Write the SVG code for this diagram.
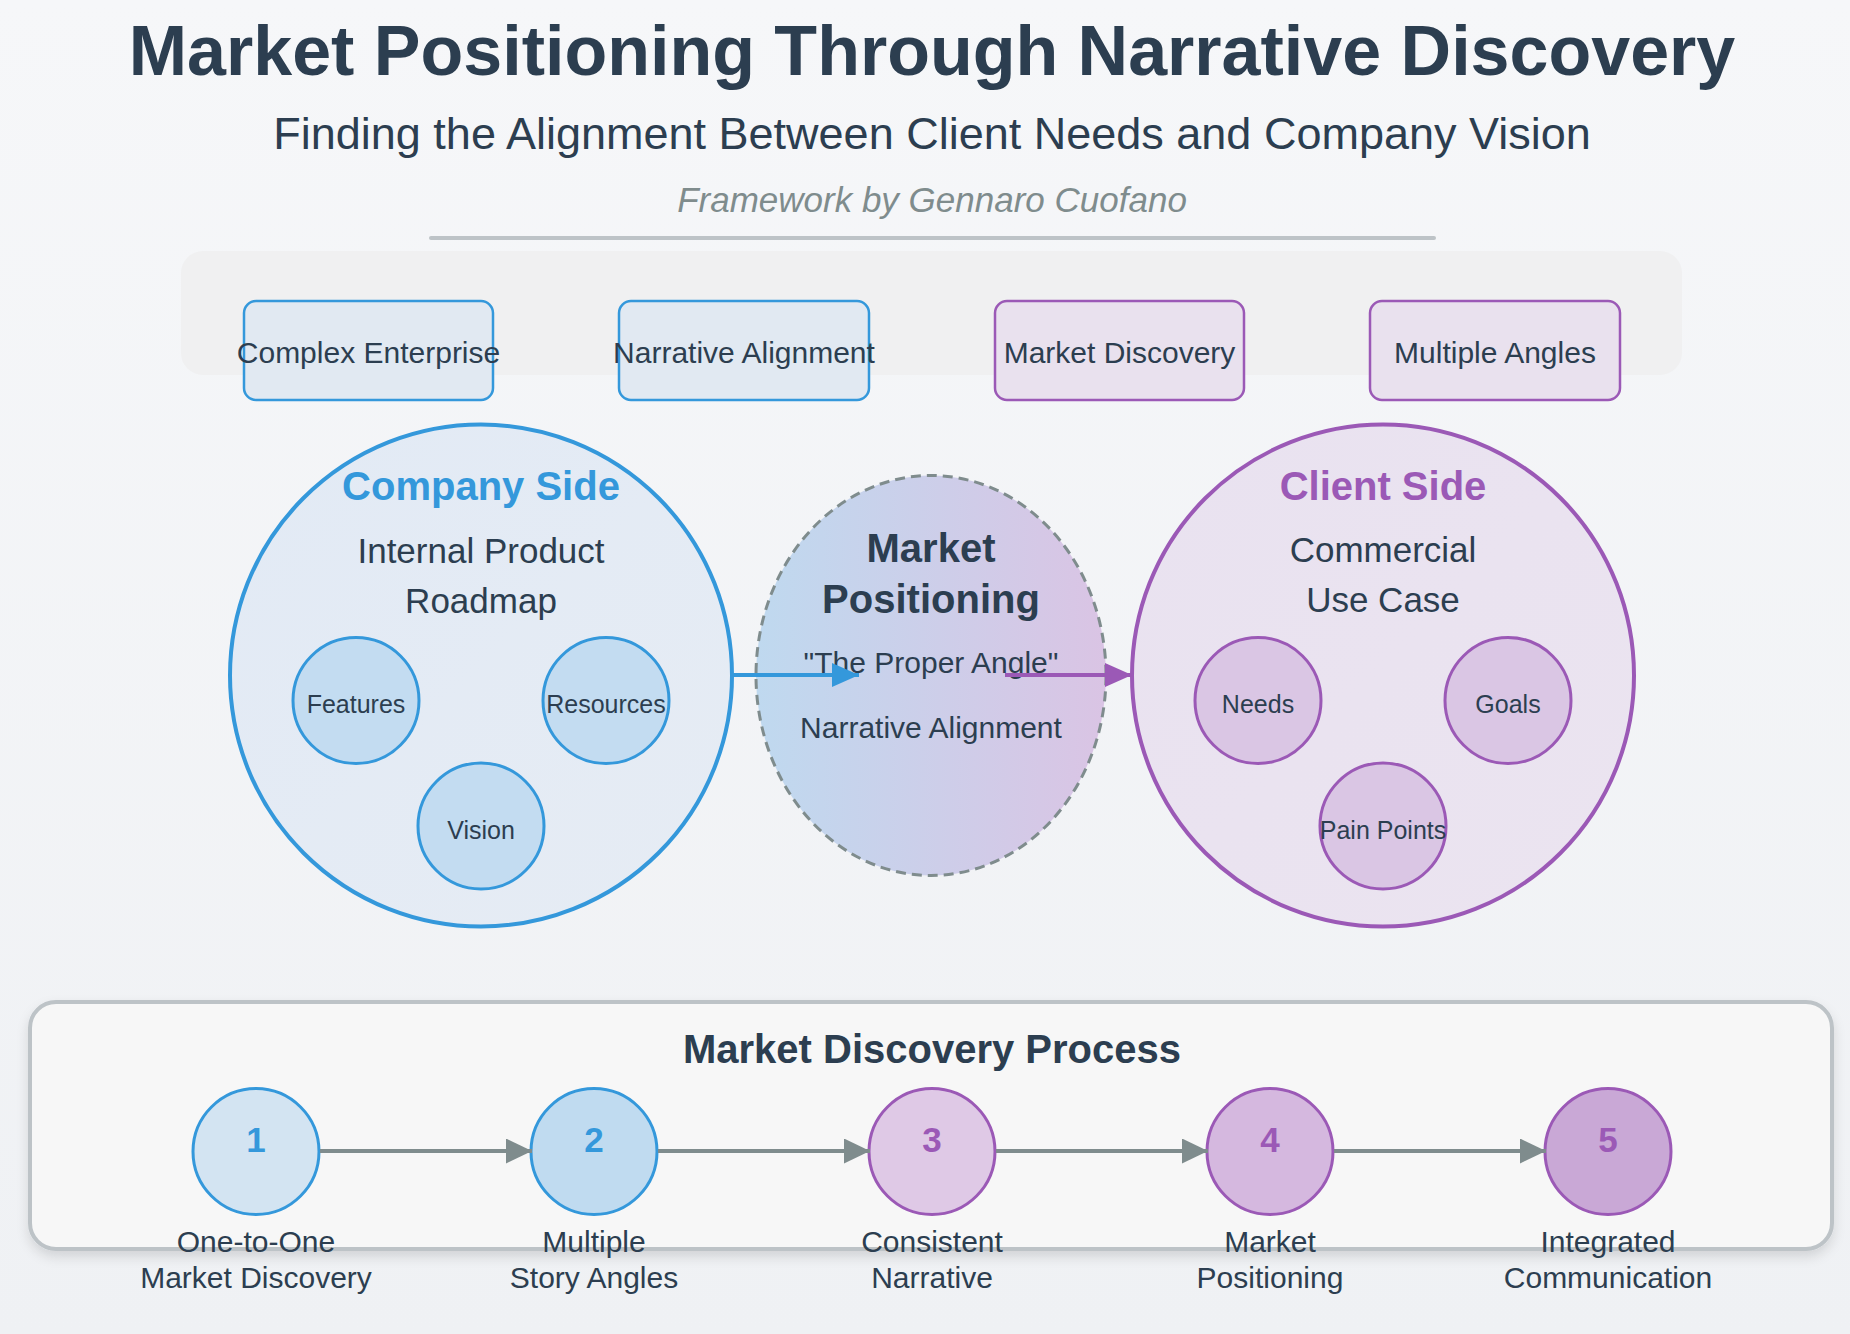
<svg xmlns="http://www.w3.org/2000/svg" width="1850" height="1334" viewBox="0 0 1850 1334">
<defs>
<linearGradient id="bg" x1="0" y1="0" x2="0" y2="1"><stop offset="0" stop-color="#f6f7f9"/><stop offset="1" stop-color="#eff1f4"/></linearGradient>
<linearGradient id="mid" x1="0" y1="0" x2="1" y2="0"><stop offset="0" stop-color="#bfd9ef"/><stop offset="1" stop-color="#dac4e4"/></linearGradient>
<linearGradient id="compG" x1="0" y1="0" x2="1" y2="1"><stop offset="0" stop-color="#e2eaf5"/><stop offset="1" stop-color="#e6ecf4"/></linearGradient>
<linearGradient id="cliG" x1="0" y1="0" x2="1" y2="1"><stop offset="0" stop-color="#e9e2f0"/><stop offset="1" stop-color="#ebe4f0"/></linearGradient>
<filter id="sh" x="-5%" y="-10%" width="110%" height="130%"><feDropShadow dx="0" dy="6" stdDeviation="6" flood-color="#000" flood-opacity="0.12"/></filter>
<marker id="ab" markerUnits="userSpaceOnUse" markerWidth="27" markerHeight="24" refX="27" refY="12" orient="auto"><path d="M0,0 L27,12 L0,24 z" fill="#3498db"/></marker>
<marker id="ap" markerUnits="userSpaceOnUse" markerWidth="27" markerHeight="24" refX="27" refY="12" orient="auto"><path d="M0,0 L27,12 L0,24 z" fill="#9b59b6"/></marker>
<marker id="ag" markerUnits="userSpaceOnUse" markerWidth="26" markerHeight="25" refX="26" refY="12.5" orient="auto"><path d="M0,0 L26,12.5 L0,25 z" fill="#7f8c8d"/></marker>
</defs>
<style>
text{font-family:"Liberation Sans",Arial,sans-serif;fill:#2c3e50;text-anchor:middle}
.kw{font-size:30px}
.kb{fill:#e1e9f2;stroke:#3498db;stroke-width:2.5}
.kp{fill:#e9e1ee;stroke:#9b59b6;stroke-width:2.5}
.sb{fill:#c3dcf1;stroke:#3498db;stroke-width:3}
.sp{fill:#dac6e4;stroke:#9b59b6;stroke-width:3}
.sm{font-size:25px}
.hd{font-size:40px;font-weight:bold}
.sub{font-size:35px}
.num{font-size:35px;font-weight:bold}
.lab{font-size:30px}
.blue{fill:#3498db}
.purp{fill:#9b59b6}
.cb{stroke:#3498db;stroke-width:4;fill:none}
.cp{stroke:#9b59b6;stroke-width:4;fill:none}
.cg{stroke:#7f8c8d;stroke-width:4;fill:none}
</style>
<rect width="1850" height="1334" fill="url(#bg)"/>

<g id="header">
<text x="932" y="75" style="font-size:70px;font-weight:bold">Market Positioning Through Narrative Discovery</text>
<text x="932" y="149" style="font-size:45px">Finding the Alignment Between Client Needs and Company Vision</text>
<text x="932" y="212" style="font-size:35px;font-style:italic;fill:#7f8c8d">Framework by Gennaro Cuofano</text>
<line x1="431" y1="238" x2="1434" y2="238" stroke="#bdc3c7" stroke-width="4" stroke-linecap="round"/>
</g>

<g id="keyword-band">
<rect x="181" y="251" width="1501" height="124" rx="22" fill="#f0f0f1"/>
</g>
<g id="kw-complex"><rect class="kb" x="244" y="301" width="249" height="99" rx="12"/><text class="kw" x="368.5" y="363">Complex Enterprise</text></g>
<g id="kw-narrative"><rect class="kb" x="619" y="301" width="250" height="99" rx="12"/><text class="kw" x="744" y="363">Narrative Alignment</text></g>
<g id="kw-discovery"><rect class="kp" x="995" y="301" width="249" height="99" rx="12"/><text class="kw" x="1119.5" y="363">Market Discovery</text></g>
<g id="kw-angles"><rect class="kp" x="1370" y="301" width="250" height="99" rx="12"/><text class="kw" x="1495" y="363">Multiple Angles</text></g>

<g id="company-side">
<circle cx="481" cy="675.5" r="251" fill="url(#compG)" stroke="#3498db" stroke-width="4"/>
<text class="hd blue" x="481" y="500">Company Side</text>
<text class="sub" x="481" y="562.5">Internal Product</text>
<text class="sub" x="481" y="612.5">Roadmap</text>
</g>
<g id="features"><circle class="sb" cx="356" cy="700.5" r="63"/><text class="sm" x="356" y="713">Features</text></g>
<g id="resources"><circle class="sb" cx="606" cy="700.5" r="63"/><text class="sm" x="606" y="713">Resources</text></g>
<g id="vision"><circle class="sb" cx="481" cy="826" r="63"/><text class="sm" x="481" y="839">Vision</text></g>

<g id="market-positioning">
<ellipse cx="931" cy="675.5" rx="175" ry="200" fill="url(#mid)" stroke="#7f8c8d" stroke-width="3" stroke-dasharray="10,6"/>
<text class="hd" x="931" y="562">Market</text>
<text class="hd" x="931" y="613">Positioning</text>
<text style="font-size:30px" x="931" y="673">"The Proper Angle"</text>
<text style="font-size:30px" x="931" y="738">Narrative Alignment</text>
</g>

<g id="client-side">
<circle cx="1383" cy="675.5" r="251" fill="url(#cliG)" stroke="#9b59b6" stroke-width="4"/>
<text class="hd purp" x="1383" y="500">Client Side</text>
<text class="sub" x="1383" y="562">Commercial</text>
<text class="sub" x="1383" y="612">Use Case</text>
</g>
<g id="needs"><circle class="sp" cx="1258" cy="700.5" r="63"/><text class="sm" x="1258" y="713">Needs</text></g>
<g id="goals"><circle class="sp" cx="1508" cy="700.5" r="63"/><text class="sm" x="1508" y="713">Goals</text></g>
<g id="pain-points"><circle class="sp" cx="1383" cy="826" r="63"/><text class="sm" x="1383" y="839">Pain Points</text></g>

<g id="process-panel">
<rect x="30" y="1002" width="1802" height="247" rx="26" fill="#f7f7f7" stroke="#bdc3c7" stroke-width="4" filter="url(#sh)"/>
<text x="932" y="1063" style="font-size:40px;font-weight:bold">Market Discovery Process</text>
</g>
<g id="step-1"><circle cx="256" cy="1151.5" r="63" fill="#d3e4f2" stroke="#3498db" stroke-width="3"/><text class="num blue" x="256" y="1152">1</text><text class="lab" x="256" y="1251.5">One-to-One</text><text class="lab" x="256" y="1288">Market Discovery</text></g>
<g id="step-2"><circle cx="594" cy="1151.5" r="63" fill="#c0dbf0" stroke="#3498db" stroke-width="3"/><text class="num blue" x="594" y="1152">2</text><text class="lab" x="594" y="1251.5">Multiple</text><text class="lab" x="594" y="1288">Story Angles</text></g>
<g id="step-3"><circle cx="932" cy="1151.5" r="63" fill="#dfc9e6" stroke="#9b59b6" stroke-width="3"/><text class="num purp" x="932" y="1152">3</text><text class="lab" x="932" y="1251.5">Consistent</text><text class="lab" x="932" y="1288">Narrative</text></g>
<g id="step-4"><circle cx="1270" cy="1151.5" r="63" fill="#d5b8df" stroke="#9b59b6" stroke-width="3"/><text class="num purp" x="1270" y="1152">4</text><text class="lab" x="1270" y="1251.5">Market</text><text class="lab" x="1270" y="1288">Positioning</text></g>
<g id="step-5"><circle cx="1608" cy="1151.5" r="63" fill="#c9a8d6" stroke="#9b59b6" stroke-width="3"/><text class="num purp" x="1608" y="1152">5</text><text class="lab" x="1608" y="1251.5">Integrated</text><text class="lab" x="1608" y="1288">Communication</text></g>

<g id="connectors">
<line class="cb" x1="733" y1="675" x2="859" y2="675" marker-end="url(#ab)"/>
<line class="cp" x1="1005" y1="675" x2="1132" y2="675" marker-end="url(#ap)"/>
<line class="cg" x1="320" y1="1151" x2="532" y2="1151" marker-end="url(#ag)"/>
<line class="cg" x1="658" y1="1151" x2="870" y2="1151" marker-end="url(#ag)"/>
<line class="cg" x1="996" y1="1151" x2="1208" y2="1151" marker-end="url(#ag)"/>
<line class="cg" x1="1334" y1="1151" x2="1546" y2="1151" marker-end="url(#ag)"/>
</g>
</svg>
